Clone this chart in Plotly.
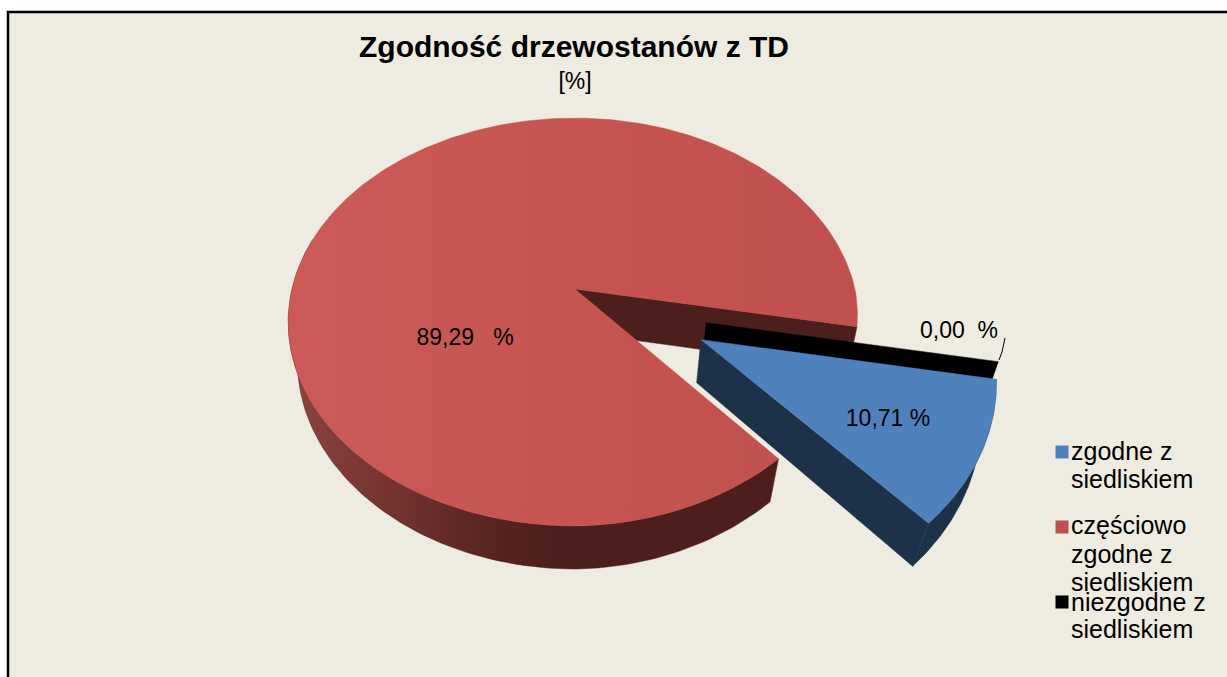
import math
import plotly.graph_objects as go

# --- data ---
categories = ["zgodne z siedliskiem", "częściowo zgodne z siedliskiem", "niezgodne z siedliskiem"]
values = [10.71, 89.29, 0.00]
value_labels = ["10,71 %", "89,29   %", "0,00  %"]
title_text = "Zgodność drzewostanów z TD"
subtitle_text = "[%]"
legend_lines = [["zgodne z", "siedliskiem"], ["częściowo", "zgodne z", "siedliskiem"], ["niezgodne z", "siedliskiem"]]

# --- style ---
top_colors = ["#4f81bd", "#c0504d", "#000000"]
wall_colors = ["#1d3249", "#4c1e1c", "#000000"]
BG = "#eeebe0"
FONT = "Liberation Sans"

# --- pseudo-3D projection of the pie plane onto the axes ---
CX, CY = 575.0, 289.0
R, R_LEFT, K, P = 280.0, 283.0, 198.6, 0.162
H = 43.0
START = 10.8
SKEW_X, SKEW_Y = 9.0, 4.0
offsets = [(0.435, 0.247), (0.0, 0.0), (0.458, 0.167)]


def top(x, y):
    d = 1 - P * y
    q = max(x, 0) * max(y, 0)
    return CX + (R if x >= 0 else R_LEFT) * x / d - SKEW_X * q, CY + K * y / d - SKEW_Y * q


def bot(x, y):
    sx, sy = top(x, y)
    s = 0.97 - 0.015 * max(y, 0)
    return CX + (sx - CX) * s, sy + H


def arc(a0, a1, off, n=120):
    return [(off[0] + math.cos(math.radians(a0 + (a1 - a0) * i / n)),
             off[1] + math.sin(math.radians(a0 + (a1 - a0) * i / n))) for i in range(n + 1)]


# slice angles come from the values
angles = []
a = START
for v in values:
    angles.append((a, a + v / sum(values) * 360))
    a += v / sum(values) * 360

fig = go.Figure()


def poly(points, color, gradient=None):
    xs = [p[0] for p in points] + [points[0][0]]
    ys = [p[1] for p in points] + [points[0][1]]
    kw = dict(fillgradient=gradient) if gradient else dict(fillcolor=color)
    fig.add_trace(go.Scatter(x=xs, y=ys, mode="lines", fill="toself", line=dict(width=0.5, color=color),
                             hoverinfo="skip", showlegend=False, **kw))


def wall(p0, p1, color):
    poly([top(*p0), top(*p1), bot(*p1), bot(*p0)], color)


# red slice (index 1): back wall, rim, top
a0, a1 = angles[1]
off = offsets[1]
wall(off, arc(a1, a1, off, 1)[0], wall_colors[1])
rim_pts = arc(a0, 195, off)
rim_grad = dict(type="horizontal", start=300, stop=570,
                colorscale=[[0, "#8a4240"], [0.4, "#6f302e"], [0.75, "#55231f"], [1, wall_colors[1]]])
poly([top(*p) for p in rim_pts] + [bot(*p) for p in reversed(rim_pts)], wall_colors[1], rim_grad)
poly([top(*off)] + [top(*p) for p in arc(a0, a1, off, 360)], top_colors[1],
     dict(type="horizontal", start=287, stop=857, colorscale=[[0, "#cb5a58"], [0.5, "#c65552"], [1, "#c0504d"]]))

# zero slice (index 2): only its wall shows
off = offsets[2]
wall(off, arc(angles[2][0], angles[2][0], off, 1)[0], wall_colors[2])

# blue slice (index 0)
a0, a1 = angles[0]
off = offsets[0]
wall(off, arc(a1, a1, off, 1)[0], wall_colors[0])
rim_pts = arc(a0, a1, off, 60)
poly([top(*p) for p in rim_pts] + [bot(*p) for p in reversed(rim_pts)], wall_colors[0])
poly([top(*off)] + [top(*p) for p in arc(a0, a1, off, 60)], top_colors[0])

# leader line of the zero label
fig.add_trace(go.Scatter(x=[999, 1002, 1005], y=[360, 352, 338], mode="lines", line=dict(color="#000000", width=1),
                         hoverinfo="skip", showlegend=False))


def text(x, y, s, size, pos="middle center", bold=False):
    fig.add_trace(go.Scatter(x=[x], y=[y], mode="text", text=[s], textposition=pos, hoverinfo="skip", showlegend=False,
                             textfont=dict(family=FONT, size=size, color="#000000", weight="bold" if bold else "normal")))


text(574, 49, title_text, 30, bold=True)
text(575, 83, subtitle_text, 23)
text(465, 339, value_labels[1], 23)
text(888, 420, value_labels[0], 23)
text(959, 332, value_labels[2], 23)

# legend
marker_y = [452, 527, 602]
line_y = [[454, 482], [528, 557, 585], [605, 632]]
for i, lines in enumerate(legend_lines):
    fig.add_trace(go.Scatter(x=[1062], y=[marker_y[i]], mode="markers", name=categories[i], hoverinfo="skip", showlegend=False,
                             marker=dict(symbol="square", size=13, color=top_colors[i], line=dict(width=0))))
    for s, y in zip(lines, line_y[i]):
        text(1071, y, s, 25, "middle right")

fig.update_layout(
    width=1227, height=677, autosize=False,
    margin=dict(l=0, r=0, t=0, b=0),
    paper_bgcolor="#ffffff", plot_bgcolor="rgba(0,0,0,0)", showlegend=False,
    xaxis=dict(range=[0, 1227], visible=False, fixedrange=True),
    yaxis=dict(range=[677, 0], visible=False, fixedrange=True),
    shapes=[dict(type="rect", xref="x", yref="y", x0=8, y0=12, x1=1300, y1=800, layer="below",
                 fillcolor=BG, line=dict(color="#000000", width=2.5))],
)
fig.write_html("out.html", config=dict(displayModeBar=False),
               post_script="document.body.style.margin='0';document.body.style.overflow='hidden';")
